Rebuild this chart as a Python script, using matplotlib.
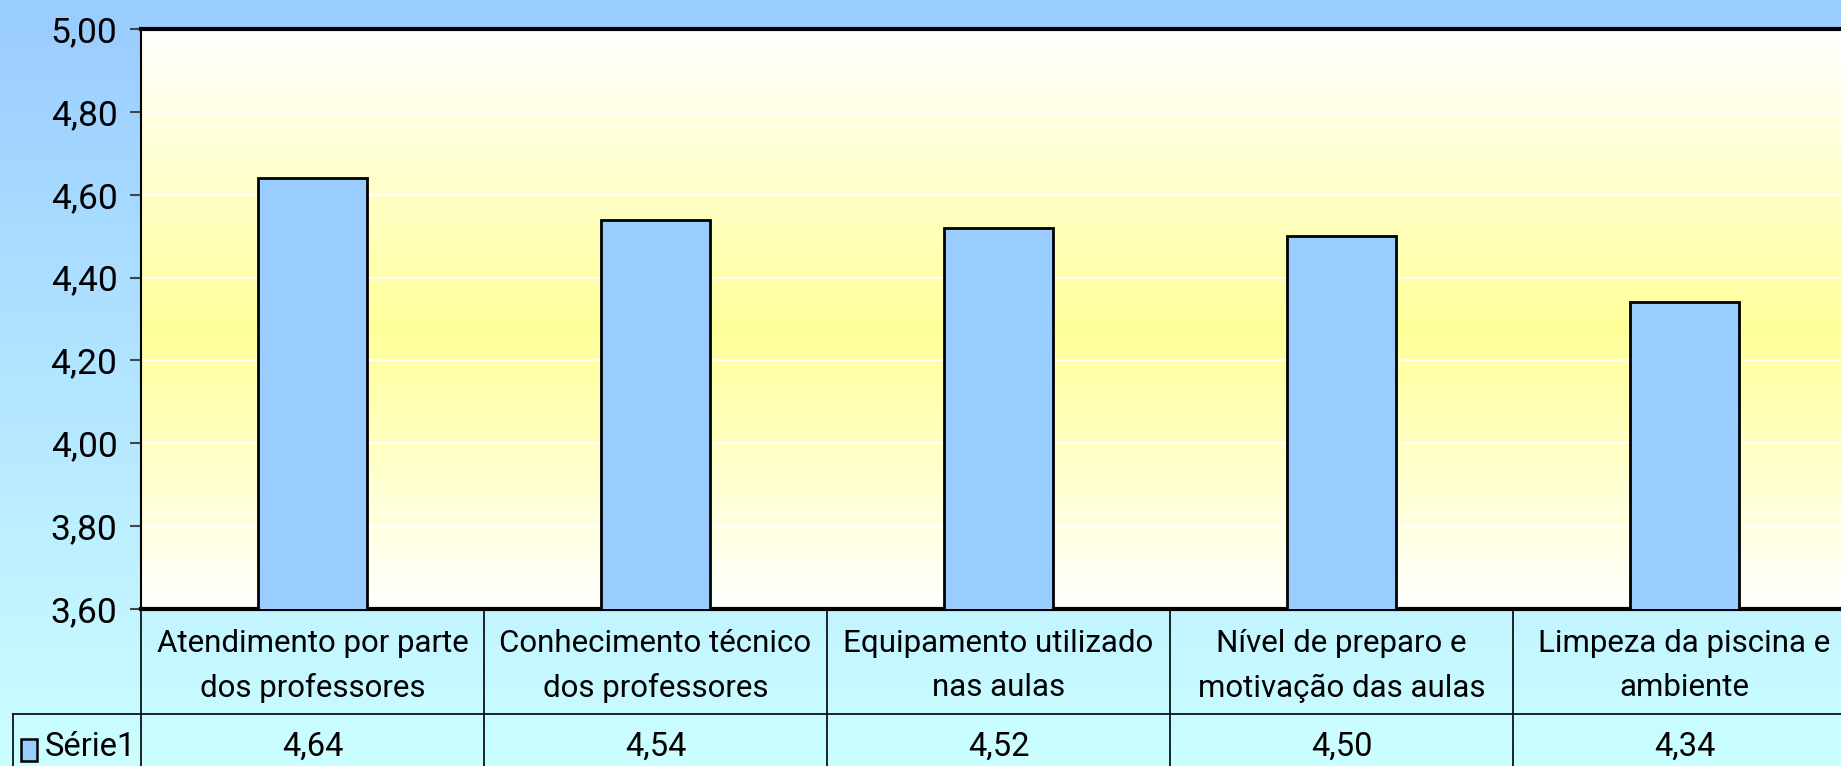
import numpy as np
import matplotlib
matplotlib.use("Agg")
import matplotlib.pyplot as plt
from matplotlib.colors import LinearSegmentedColormap
from matplotlib.patches import Rectangle

categories = ["Atendimento por parte\ndos professores",
              "Conhecimento técnico\ndos professores",
              "Equipamento utilizado\nnas aulas",
              "Nível de preparo e\nmotivação das aulas",
              "Limpeza da piscina e\nambiente"]
values = [4.64, 4.54, 4.52, 4.50, 4.34]
value_labels = ["4,64", "4,54", "4,52", "4,50", "4,34"]
series_name = "Série1"
yticks = [3.60, 3.80, 4.00, 4.20, 4.40, 4.60, 4.80, 5.00]
ytick_labels = ["3,60", "3,80", "4,00", "4,20", "4,40", "4,60", "4,80", "5,00"]

FONT = ['Roboto', 'DejaVu Sans']
plt.rcParams['font.family'] = FONT

W, H = 1841, 766
fig = plt.figure(figsize=(W / 100, H / 100), dpi=100)

# figure background gradient
bg = fig.add_axes([0, 0, 1, 1], zorder=-10)
bg_cmap = LinearSegmentedColormap.from_list("bg", ["#99CCFF", "#CCFFFF"])
bg.imshow(np.linspace(0, 1, 256).reshape(-1, 1), aspect='auto', cmap=bg_cmap,
          extent=[0, 1, 0, 1], origin='upper')
bg.set_xlim(0, 1); bg.set_ylim(0, 1)
bg.axis('off')

px = lambda x: x / W
py = lambda y: 1 - y / H

left, right, top, bottom = 141, 1856, 29, 609
ax = fig.add_axes([px(left), py(bottom), px(right) - px(left), py(top) - py(bottom)])

n = len(values)
ax.set_xlim(-0.5, n - 0.5)

# plot area gradient white -> yellow -> white
pa_cmap = LinearSegmentedColormap.from_list(
    "pa", [(0, "#FFFFFF"), (0.52, "#FFFF99"), (1.0, "#FFFFFF")])
ax.imshow(np.linspace(0, 1, 256).reshape(-1, 1), aspect='auto', cmap=pa_cmap,
          extent=[-0.5, n - 0.5, 3.6, 5.0], origin='upper', zorder=0)

for t in yticks[1:-1]:
    ax.axhline(t, color='white', lw=1.3, zorder=1)

ax.bar(range(n), values, width=0.32, bottom=0, color="#99CCFF",
       edgecolor='black', linewidth=2, zorder=3)
ax.set_ylim(3.6, 5.0)

ax.set_yticks(yticks)
ax.set_yticklabels(ytick_labels, fontsize=25.5)
ax.set_xticks([])
ax.tick_params(axis='y', direction='out', length=8, width=1.5, color='#444444', pad=9)
ax.spines['right'].set_visible(False)
ax.spines['left'].set_linewidth(1.5)
ax.spines['top'].set_linewidth(3)
ax.spines['bottom'].set_linewidth(3)

# data table
ov = fig.add_axes([0, 0, 1, 1], zorder=5)
ov.set_xlim(0, W); ov.set_ylim(H, 0)
ov.axis('off')
colw = (right - left) / n
row1_bot = 714
tbl_left = 13
lw = 1.2
ov.plot([tbl_left, right], [row1_bot, row1_bot], color='black', lw=lw)
ov.plot([tbl_left, tbl_left], [row1_bot, H + 5], color='black', lw=lw)
for i in range(n + 1):
    x = left + i * colw
    ov.plot([x, x], [bottom, H + 5], color='black', lw=lw)
for i, (c, v) in enumerate(zip(categories, value_labels)):
    cx = left + (i + 0.5) * colw
    lines = c.split("\n")
    for j, line in enumerate(lines):
        ov.text(cx, 643 + 45 * j, line, ha='center', va='center', fontsize=22.5)
    ov.text(cx, 747, v, ha='center', va='center', fontsize=23.5)
ov.add_patch(Rectangle((21, 739), 16, 22, facecolor="#99CCFF", edgecolor='black', lw=1.8))
ov.text(45, 747, series_name, ha='left', va='center', fontsize=23.5)

fig.savefig("out.png", dpi=100)
